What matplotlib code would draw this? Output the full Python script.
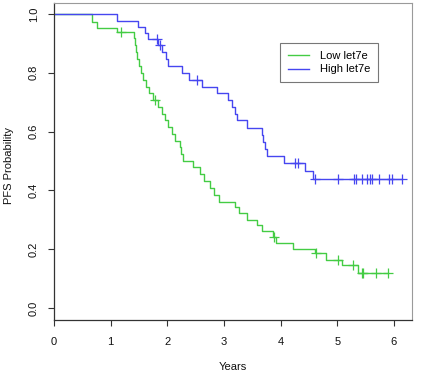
import numpy as np
import matplotlib
matplotlib.use("Agg")
import matplotlib.pyplot as plt

plt.rcParams['font.family'] = ['Liberation Sans', 'DejaVu Sans']

# ---- data ----
series_names = ["Low let7e", "High let7e"]

low_event_t = [0.665, 0.765, 1.117, 1.42, 1.43, 1.44, 1.46, 1.50, 1.53, 1.57, 1.63, 1.68, 1.74,
               1.84, 1.90, 1.96, 2.02, 2.08, 2.14, 2.22, 2.25, 2.28,
               2.46, 2.58, 2.64, 2.75, 2.82, 2.92,
               3.19, 3.27, 3.40, 3.59, 3.67, 3.86, 3.92, 4.22, 4.60, 4.80, 5.08, 5.37]
low_surv = [0.972, 0.953, 0.940, 0.917, 0.893, 0.870, 0.847, 0.823, 0.800, 0.777, 0.753, 0.730, 0.707,
            0.684, 0.661, 0.638, 0.615, 0.592, 0.569, 0.546, 0.523, 0.500,
            0.480, 0.456, 0.433, 0.409, 0.386, 0.362,
            0.343, 0.322, 0.301, 0.282, 0.262, 0.240, 0.220, 0.200, 0.186, 0.163, 0.146, 0.120]
low_cens_t = [1.18, 1.78, 3.88, 4.62, 5.02, 5.28, 5.44, 5.46, 5.68, 5.90]
low_end = 5.90

high_event_t = [1.106, 1.482, 1.606, 1.668, 1.844, 1.915, 1.985, 2.017, 2.254, 2.38,
                2.606, 2.871, 3.076, 3.136, 3.194, 3.224, 3.400, 3.665, 3.694, 3.724, 3.753,
                4.059, 4.429, 4.576]
high_surv = [0.977, 0.955, 0.934, 0.914, 0.893, 0.871, 0.848, 0.823, 0.798, 0.776,
             0.753, 0.730, 0.707, 0.685, 0.660, 0.639, 0.611, 0.588, 0.563, 0.540, 0.517,
             0.494, 0.467, 0.439]
high_cens_t = [1.812, 1.879, 2.518, 4.253, 4.311, 4.606, 5.006, 5.294, 5.324, 5.441, 5.518,
               5.576, 5.606, 5.741, 5.918, 5.959, 6.136]
high_end = 6.136

x_ticks = [0, 1, 2, 3, 4, 5, 6]
y_ticks = [0.0, 0.2, 0.4, 0.6, 0.8, 1.0]
y_tick_labels = ["0.0", "0.2", "0.4", "0.6", "0.8", "1.0"]

green = '#44cc44'
blue = '#4646f0'

W, H = 440, 388
fig = plt.figure(figsize=(W / 100, H / 100), dpi=100)
ax = fig.add_axes([54 / W, 1 - 320 / H, (412 - 54) / W, (320 - 3) / H])


def km(ax, ev_t, surv, cens_t, end, color, label):
    t = np.concatenate([[0.0], ev_t, [end]])
    s = np.concatenate([[1.0], surv, [surv[-1]]])
    ax.step(t, s, where='post', color=color, lw=1.0, label=label)
    ct = np.asarray(cens_t)
    idx = np.searchsorted(np.asarray(ev_t), ct, side='right')
    cs = np.concatenate([[1.0], surv])[idx]
    ax.plot(ct, cs, '+', color=color, ms=7, mew=0.9)


km(ax, low_event_t, low_surv, low_cens_t, low_end, green, series_names[0])
km(ax, high_event_t, high_surv, high_cens_t, high_end, blue, series_names[1])

ax.set_xlim(0, 6.32)
ax.set_ylim(-0.0408, 1.0374)
ax.set_xticks(x_ticks)
ax.set_xticklabels([str(v) for v in x_ticks])
ax.set_yticks(y_ticks)
ax.set_yticklabels(y_tick_labels, rotation=90, va='center')
ax.tick_params(axis='both', labelsize=8, length=4, width=0.8, color='#333333', labelcolor='#111111')
ax.tick_params(axis='x', pad=8.5)
ax.tick_params(axis='y', pad=7)
for sp in ['top', 'right']:
    ax.spines[sp].set_color('#9a9a9a')
    ax.spines[sp].set_linewidth(0.8)
for sp in ['left', 'bottom']:
    ax.spines[sp].set_color('#333333')
    ax.spines[sp].set_linewidth(0.9)

fig.text(233 / W, 1 - 366.7 / H, "Years", ha='center', va='center', fontsize=8, color='#111111')
fig.text(9 / W, 1 - 165 / H, "PFS Probability", ha='center', va='center', rotation=90,
         fontsize=8, color='#111111')

leg = ax.legend(loc='upper left', bbox_to_anchor=(280 / W, 1 - 43.3 / H), bbox_transform=fig.transFigure,
                fancybox=False, frameon=True, edgecolor='#555555', fontsize=8,
                handlelength=1.9, handletextpad=1.0, borderpad=0.7, labelspacing=0.3,
                borderaxespad=0)
leg.get_frame().set_linewidth(0.8)

fig.savefig("out.png", dpi=100)
